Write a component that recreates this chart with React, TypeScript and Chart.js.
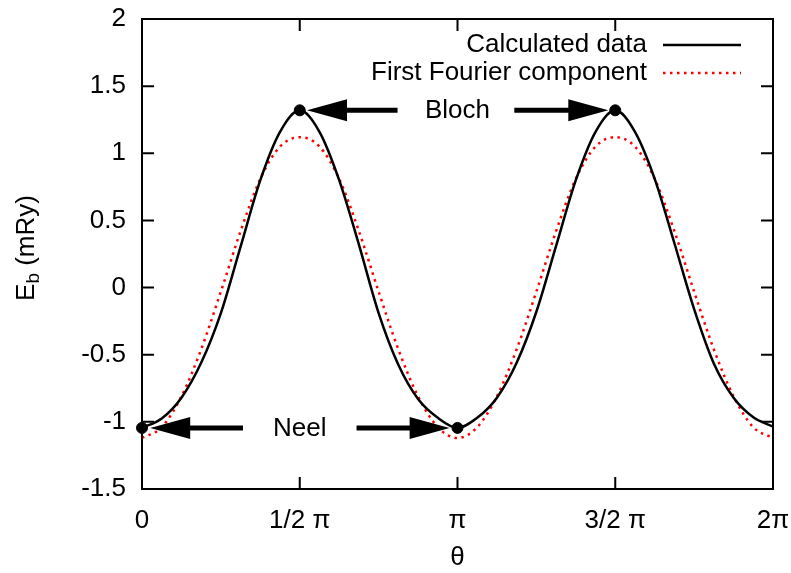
import React, { useEffect, useRef } from "react";
import { Chart, registerables } from "chart.js";

Chart.register(...registerables);

const PI = Math.PI;

// sample angles, in units of pi/16
const thetaSixteenths = [
  0, 1, 2, 3, 4, 5, 6, 7, 8, 9, 10, 11, 12, 13, 14, 15, 16,
  17, 18, 19, 20, 21, 22, 23, 24, 25, 26, 27, 28, 29, 30, 31, 32,
];

const calculatedData = [
  -1.045, -0.975, -0.82, -0.56, -0.19, 0.305, 0.80, 1.16, 1.32,
  1.16, 0.80, 0.32, -0.19, -0.575, -0.83, -0.97, -1.045,
  -0.97, -0.82, -0.56, -0.18, 0.31, 0.80, 1.16, 1.32,
  1.16, 0.81, 0.33, -0.16, -0.565, -0.82, -0.965, -1.035,
];

const fourierComponent = [
  -1.12, -1.04, -0.81, -0.46, -0.03, 0.42, 0.81, 1.05, 1.12,
  1.05, 0.81, 0.42, -0.03, -0.46, -0.81, -1.04, -1.12,
  -1.04, -0.81, -0.46, -0.03, 0.42, 0.81, 1.05, 1.12,
  1.05, 0.81, 0.42, -0.03, -0.46, -0.81, -1.04, -1.12,
];

// marked extrema (theta in units of pi)
const markerThetaPi = [0, 0.5, 1, 1.5];
const markerValues = [-1.045, 1.32, -1.045, 1.32];

// arrows (theta in units of pi)
const arrowFromPi = [0.81, 1.18, 0.32, 0.68];
const arrowToPi = [0.523, 1.478, 0.026, 0.975];
const arrowValue = [1.32, 1.32, -1.045, -1.045];

const noteText = ["Bloch", "Neel"];
const noteThetaPi = [1, 0.5];
const noteValue = [1.32, -1.045];

const xTickHalfPi = [0, 1, 2, 3, 4];
const xTickLabels = ["0", "1/2 \u03c0", "\u03c0", "3/2 \u03c0", "2\u03c0"];
const yMin = -1.5;
const yMax = 2;
const yStep = 0.5;

const FONT = "'Liberation Sans', Arial, Helvetica, sans-serif";
const FS = 26;

const decorPlugin = {
  id: "decor",
  afterDraw(chart: any) {
    const { ctx, chartArea: a, scales } = chart;
    const xs = scales.x;
    const ys = scales.y;
    ctx.save();
    // border
    ctx.strokeStyle = "#000";
    ctx.lineWidth = 2;
    ctx.strokeRect(a.left, a.top, a.right - a.left, a.bottom - a.top);
    // inward ticks on all sides
    const tl = 12;
    ctx.beginPath();
    xs.ticks.forEach((t: any) => {
      const px = xs.getPixelForValue(t.value);
      if (px <= a.left + 1 || px >= a.right - 1) return;
      ctx.moveTo(px, a.bottom);
      ctx.lineTo(px, a.bottom - tl);
      ctx.moveTo(px, a.top);
      ctx.lineTo(px, a.top + tl);
    });
    ys.ticks.forEach((t: any) => {
      const py = ys.getPixelForValue(t.value);
      if (py <= a.top + 1 || py >= a.bottom - 1) return;
      ctx.moveTo(a.left, py);
      ctx.lineTo(a.left + tl, py);
      ctx.moveTo(a.right, py);
      ctx.lineTo(a.right - tl, py);
    });
    ctx.stroke();

    // arrows
    ctx.fillStyle = "#000";
    arrowFromPi.forEach((f, i) => {
      const x0 = xs.getPixelForValue(f * PI);
      const x1 = xs.getPixelForValue(arrowToPi[i] * PI);
      const y = ys.getPixelForValue(arrowValue[i]);
      const dir = Math.sign(x1 - x0);
      const headLen = 40;
      const headHalf = 11;
      const xb = x1 - dir * headLen;
      ctx.lineWidth = 5;
      ctx.beginPath();
      ctx.moveTo(x0, y);
      ctx.lineTo(xb + dir * 2, y);
      ctx.stroke();
      ctx.beginPath();
      ctx.moveTo(x1, y);
      ctx.lineTo(xb, y - headHalf);
      ctx.lineTo(xb, y + headHalf);
      ctx.closePath();
      ctx.fill();
    });

    // notes
    ctx.font = `${FS}px ${FONT}`;
    ctx.textAlign = "center";
    ctx.textBaseline = "middle";
    noteText.forEach((t, i) => {
      ctx.fillText(
        t,
        xs.getPixelForValue(noteThetaPi[i] * PI),
        ys.getPixelForValue(noteValue[i]) + 1
      );
    });

    // legend (gnuplot style: right-aligned text, sample to the right)
    const dsList = [chart.data.datasets[0], chart.data.datasets[1]];
    dsList.forEach((ds: any, i: number) => {
      const y = a.top + 26 + i * 28;
      ctx.textAlign = "right";
      ctx.fillStyle = "#000";
      ctx.fillText(ds.label, a.right - 126, y);
      ctx.strokeStyle = ds.borderColor;
      ctx.lineWidth = ds.borderWidth;
      ctx.setLineDash(ds.borderDash || []);
      ctx.beginPath();
      ctx.moveTo(a.right - 110, y);
      ctx.lineTo(a.right - 32, y);
      ctx.stroke();
      ctx.setLineDash([]);
    });

    // x title
    ctx.fillStyle = "#000";
    ctx.textAlign = "center";
    ctx.fillText("\u03b8", (a.left + a.right) / 2, a.bottom + 69);

    // y title with subscript
    ctx.translate(27, 248);
    ctx.rotate(-PI / 2);
    const mainFont = `${FS}px ${FONT}`;
    const subFont = `${Math.round(FS * 0.72)}px ${FONT}`;
    ctx.font = mainFont;
    const wE = ctx.measureText("E").width;
    const wRest = ctx.measureText(" (mRy)").width;
    ctx.font = subFont;
    const wb = ctx.measureText("b").width;
    const total = wE + wb + wRest;
    let x = -total / 2;
    ctx.textAlign = "left";
    ctx.font = mainFont;
    ctx.fillText("E", x, 0);
    x += wE;
    ctx.font = subFont;
    ctx.fillText("b", x, 7);
    x += wb;
    ctx.font = mainFont;
    ctx.fillText(" (mRy)", x, 0);
    ctx.restore();
  },
};

export default function App() {
  const ref = useRef<HTMLCanvasElement | null>(null);

  useEffect(() => {
    document.body.style.margin = "0";
    const canvas = ref.current;
    if (!canvas) return;
    const theta = thetaSixteenths.map((k) => (k * PI) / 16);
    const chart = new Chart(canvas, {
      type: "line",
      data: {
        datasets: [
          {
            label: "Calculated data",
            data: theta.map((t, i) => ({ x: t, y: calculatedData[i] })),
            borderColor: "#000000",
            borderWidth: 2.5,
            pointRadius: 0,
            cubicInterpolationMode: "monotone",
            fill: false,
          } as any,
          {
            label: "First Fourier component",
            data: theta.map((t, i) => ({ x: t, y: fourierComponent[i] })),
            borderColor: "#ff0000",
            borderWidth: 2.5,
            borderDash: [2.5, 4.5],
            pointRadius: 0,
            cubicInterpolationMode: "monotone",
            fill: false,
          } as any,
          {
            type: "scatter",
            label: "markers",
            data: markerThetaPi.map((t, i) => ({ x: t * PI, y: markerValues[i] })),
            backgroundColor: "#000",
            borderColor: "#000",
            pointRadius: 5.5,
            showLine: false,
            clip: false,
          } as any,
        ],
      },
      options: {
        responsive: false,
        animation: false,
        events: [],
        layout: { padding: { left: 0, right: 18, top: 19, bottom: 0 } },
        plugins: {
          legend: { display: false },
          tooltip: { enabled: false },
        },
        scales: {
          x: {
            type: "linear",
            min: 0,
            max: 2 * PI,
            grid: { display: false, drawTicks: false },
            border: { display: false },
            afterBuildTicks: (scale: any) => {
              scale.ticks = xTickHalfPi.map((k) => ({ value: (k * PI) / 2 }));
            },
            afterFit: (scale: any) => {
              scale.height = 84;
              scale.paddingLeft = 0;
              scale.paddingRight = 0;
            },
            ticks: {
              autoSkip: false,
              maxRotation: 0,
              padding: 16,
              color: "#000",
              font: { family: FONT, size: FS },
              callback: (v: any) => {
                const idx = xTickHalfPi.findIndex(
                  (k) => Math.abs((k * PI) / 2 - Number(v)) < 1e-6
                );
                return idx >= 0 ? xTickLabels[idx] : "";
              },
            },
          },
          y: {
            type: "linear",
            min: yMin,
            max: yMax,
            grid: { display: false, drawTicks: false },
            border: { display: false },
            afterFit: (scale: any) => {
              scale.width = 142;
              scale.paddingTop = 0;
              scale.paddingBottom = 0;
            },
            ticks: {
              stepSize: yStep,
              padding: 16,
              color: "#000",
              font: { family: FONT, size: FS },
              callback: (v: any) => String(Math.round(Number(v) * 10) / 10),
            },
          },
        },
      },
      plugins: [decorPlugin],
    });
    return () => chart.destroy();
  }, []);

  return (
    <div style={{ width: 791, height: 573, background: "#fff" }}>
      <canvas ref={ref} width={791} height={573} style={{ display: "block" }} />
    </div>
  );
}
